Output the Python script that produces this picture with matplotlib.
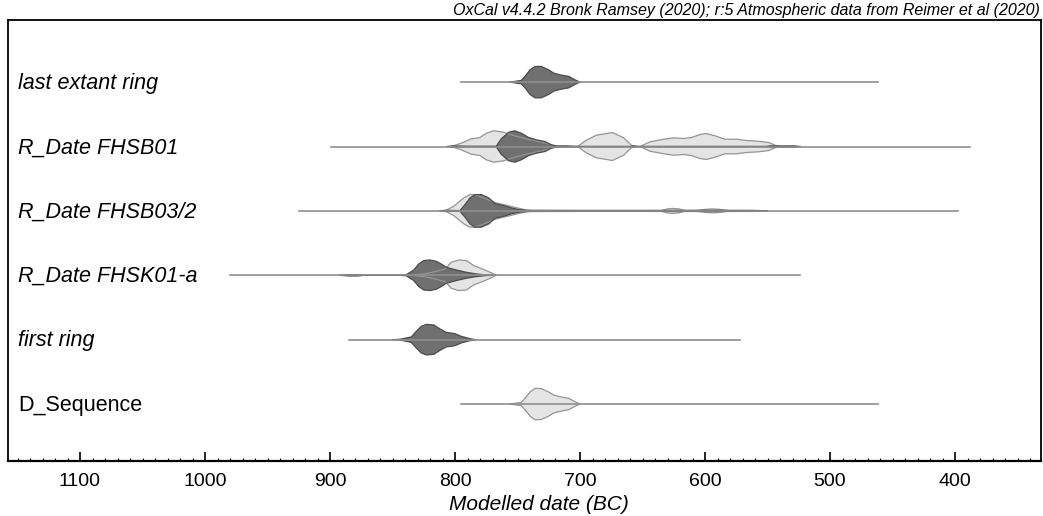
import numpy as np
import matplotlib
matplotlib.use("Agg")
import matplotlib.pyplot as plt
import matplotlib.transforms as mtransforms
from matplotlib.ticker import MultipleLocator

plt.rcParams['font.family'] = ['Liberation Sans', 'DejaVu Sans']

# rows, top to bottom
labels = ["last extant ring", "R_Date FHSB01", "R_Date FHSB03/2",
          "R_Date FHSK01-a", "first ring", "D_Sequence"]
italic = [True, True, True, True, True, False]
range_start = [795, 899, 925, 980, 885, 795]   # years BC, where the line begins
range_end = [462, 388, 398, 524, 572, 462]

# densities (relative height, same scale for all rows)
ler_post_yr = [756, 747, 744, 740, 736, 731, 725, 721, 716, 709, 704, 700]
ler_post_h = [0, 1.7, 5.7, 12.3, 15.7, 15.7, 12.3, 9.0, 7.3, 5.7, 2.3, 0]

b01_prior_yr = [803, 795, 787, 780, 775, 769, 761, 753, 743, 735, 727, 719,
                702, 695, 687, 674, 665, 659, 655,
                652, 644, 633, 625, 617, 611, 604, 599, 592, 584, 575, 567, 557, 549, 544, 540]
b01_prior_h = [0, 3.3, 7.7, 9.0, 13.3, 15.7, 14.3, 11.0, 7.7, 5.5, 3.3, 0,
               0, 6.3, 11.3, 14.0, 8.7, 1.3, 0,
               0, 4.7, 7.3, 8.7, 8.0, 9.0, 12.0, 13.0, 10.7, 7.3, 7.3, 6.0, 5.3, 4.0, 1.3, 0]
b01_post_yr = [806, 802, 790, 767, 763, 757, 752, 747, 741, 735, 728, 723, 719, 712, 706, 700,
               660, 657, 653, 552, 548, 528, 524]
b01_post_h = [0, 0.6, 0.3, 0.3, 7.7, 14.3, 15.7, 13.3, 9.0, 6.7, 5.0, 1.7, 0.6, 0.6, 0.3, 0,
              0, 0.6, 0, 0, 0.6, 0.6, 0]

b03_prior_yr = [808, 801, 793, 788, 784, 779, 773, 767, 760, 752, 745, 738,
                636, 630, 626, 621, 615, 608, 600, 594, 588, 580]
b03_prior_h = [0, 4.7, 13.0, 16.3, 16.3, 14.0, 11.0, 8.0, 6.0, 3.5, 1.5, 0,
               0, 2.0, 2.5, 2.0, 0, 0, 1.5, 2.0, 1.5, 0]
b03_post_yr = [812, 808, 796, 792, 788, 784, 779, 773, 768, 761, 755, 749, 743, 735,
               700, 650, 600, 560, 550]
b03_post_h = [0, 0.6, 0.3, 6.3, 13.0, 16.3, 16.3, 13.0, 7.3, 5.3, 3.0, 1.3, 0.6, 0.6,
              0.5, 0.5, 0.6, 0.5, 0]

k01_prior_yr = [834, 824, 818, 812, 808, 803, 797, 791, 785, 780, 775, 769, 767]
k01_prior_h = [0, 1.5, 3.0, 5.0, 6.3, 13.0, 15.3, 14.7, 9.7, 7.3, 4.7, 1.3, 0]
k01_post_yr = [892, 885, 878, 872, 845, 839, 833, 829, 825, 820, 815, 811, 807,
               799, 791, 783, 775, 770]
k01_post_h = [0, 0.7, 0.7, 0, 0, 0.5, 5.3, 11.3, 14.7, 15.3, 14.0, 11.3, 8.0,
              5.3, 3.0, 1.3, 0.3, 0]

fr_post_yr = [850, 844, 835, 831, 827, 823, 817, 812, 807, 800, 795, 789, 784]
fr_post_h = [0, 0.4, 2.7, 8.3, 13.3, 15.3, 14.7, 10.7, 7.3, 6.0, 3.3, 1.3, 0]

dseq_prior_yr = [756, 747, 744, 740, 736, 731, 725, 721, 716, 709, 704, 700]
dseq_prior_h = [0, 1.7, 5.7, 12.0, 15.7, 15.5, 12.0, 9.0, 7.3, 5.7, 2.3, 0]

priors = [None, (b01_prior_yr, b01_prior_h), (b03_prior_yr, b03_prior_h),
          (k01_prior_yr, k01_prior_h), None, (dseq_prior_yr, dseq_prior_h)]
posts = [(ler_post_yr, ler_post_h), (b01_post_yr, b01_post_h), (b03_post_yr, b03_post_h),
         (k01_post_yr, k01_post_h), (fr_post_yr, fr_post_h), None]

title = "OxCal v4.4.2 Bronk Ramsey (2020); r:5 Atmospheric data from Reimer et al (2020)"

LIGHT, LIGHT_EDGE = '#e4e4e4', '#959595'
DARK, DARK_EDGE = '#707070', '#4c4c4c'
scale = 1 / 64.4  # row spacing in the same units as the densities

fig = plt.figure(figsize=(10.43, 5.16), dpi=100)
ax = fig.add_axes([8 / 1043, 1 - 460.7 / 516, 1032.5 / 1043, 440.7 / 516])
ax.set_xlim(1157.6, 331.6)
ax.set_ylim(5.88, -0.965)

def draw(dist, y0, fc):
    yr = np.array(dist[0], dtype=float)
    h = np.array(dist[1], dtype=float) * scale
    ax.fill_between(yr, y0 - h, y0 + h, facecolor=fc, edgecolor='none', zorder=2)
    return yr, h

outlines = []
for i in range(len(labels)):
    if priors[i] is not None:
        outlines.append((draw(priors[i], i, LIGHT), i, LIGHT_EDGE, 4))
for i in range(len(labels)):
    if posts[i] is not None:
        outlines.append((draw(posts[i], i, DARK), i, DARK_EDGE, 5))
for (yr, h), i, ec, z in outlines:
    ax.plot(yr, i - h, color=ec, lw=0.9, zorder=z)
    ax.plot(yr, i + h, color=ec, lw=0.9, zorder=z)

for i in range(len(labels)):
    ax.plot([range_start[i], range_end[i]], [i, i], color='#8f8f8f', lw=1.2, zorder=6)

trans = mtransforms.blended_transform_factory(ax.transAxes, ax.transData)
for i, lab in enumerate(labels):
    ax.text(10 / 1032.5, i + 0.02, lab, transform=trans, ha='left', va='center',
            fontsize=15.5, style='italic' if italic[i] else 'normal')

for s in ax.spines.values():
    s.set_linewidth(1.3)
ax.spines['bottom'].set_linewidth(1.6)
ax.set_yticks([])
ax.xaxis.set_major_locator(MultipleLocator(100))
ax.xaxis.set_minor_locator(MultipleLocator(10))
ax.tick_params(axis='x', which='major', direction='in', length=6.5, width=1.2,
               labelsize=14, pad=9)
ax.tick_params(axis='x', which='minor', direction='in', length=2.5, width=0.8)

fig.text(1040 / 1043, 1 - 10 / 516, title, ha='right', va='center',
         fontsize=11.5, style='italic')
fig.text(539 / 1043, 1 - 504 / 516, "Modelled date (BC)", ha='center', va='center',
         fontsize=15, style='italic')

fig.savefig("out.png", dpi=100)
